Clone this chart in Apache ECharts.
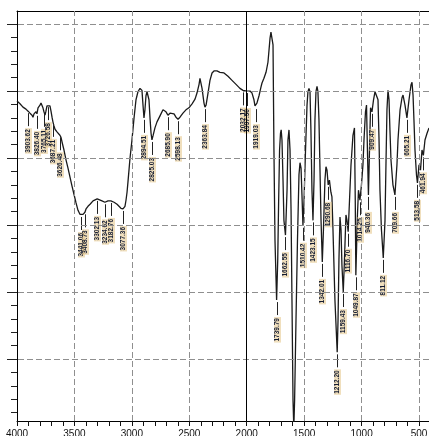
<!DOCTYPE html>
<html>
<head>
<meta charset="utf-8">
<script src="https://cdn.jsdelivr.net/npm/echarts@6/dist/echarts.min.js"></script>
<style>
  html, body { margin: 0; padding: 0; background: #fff; }
  #chart { width: 429px; height: 436px; }
</style>
</head>
<body>
<div id="chart"></div>
<script>
// IR spectrum: wavenumber (cm-1) against transmittance
const wavenumber = [
  4000, 3974, 3948, 3922, 3903.62, 3887, 3869, 3861, 3852, 3843, 3835, 3826.40, 3817, 3800, 3791, 3782,
  3774, 3765.11, 3756, 3748, 3739, 3726.58, 3713, 3704, 3695, 3687.21, 3678, 3669, 3652, 3635, 3626.48,
  3617, 3608, 3591, 3573, 3556, 3539, 3521, 3504, 3486, 3469, 3452, 3441.06, 3425, 3408.73, 3399, 3382,
  3364, 3338, 3321, 3302.13, 3286, 3260, 3234.62, 3208, 3182.76, 3155, 3129, 3112, 3095, 3077.36, 3060,
  3051, 3042, 3034, 3025, 3016, 2999, 2981, 2964, 2947, 2929, 2920, 2912, 2903, 2894.51, 2886, 2877,
  2868, 2859, 2851, 2842, 2833, 2825.03, 2816, 2799, 2781, 2755, 2729, 2720, 2703, 2685.90, 2668, 2651,
  2633, 2616, 2598.13, 2581, 2555, 2529, 2503, 2476, 2450, 2433, 2415, 2407, 2398, 2389, 2372, 2363.84,
  2354, 2337, 2320, 2302, 2285, 2259, 2233, 2198, 2163, 2128, 2093, 2059, 2032.17, 2015, 1997.50, 1971,
  1954, 1937, 1928, 1919.03, 1911, 1893, 1876, 1867, 1850, 1832, 1815, 1806, 1797, 1789, 1780, 1771,
  1763, 1754, 1739.79, 1730, 1722, 1714, 1706, 1700, 1693, 1684, 1676, 1662.55, 1649, 1641, 1632, 1623,
  1614, 1606, 1597, 1590, 1583, 1571, 1558, 1545, 1536, 1527, 1519, 1510.42, 1501, 1488, 1475, 1467,
  1458, 1449, 1441, 1432, 1423.15, 1414, 1406, 1397, 1388, 1380, 1371, 1362, 1353, 1342.01, 1332, 1319,
  1310, 1301, 1290.68, 1280, 1267, 1258, 1249, 1232, 1212.20, 1205, 1197, 1188, 1179, 1171, 1159.43, 1149,
  1136, 1127, 1116.70, 1105, 1092, 1075, 1062, 1055, 1049.87, 1036, 1027, 1014.25, 1001, 988, 979, 966,
  957, 949, 940.36, 931, 922, 909.47, 896, 883, 866, 857, 848, 840, 827, 811.12, 796, 787,
  779, 770, 761, 753, 744, 727, 709.66, 692, 683, 665, 648, 639, 622, 605.21, 587, 570,
  561, 552, 544, 535, 522, 513.58, 500, 487, 474, 461.94, 448, 430, 413
];
const transmittance = [
  38.5, 38.1, 37.6, 37.3, 37.0, 36.7, 36.4, 36.1, 36.6, 36.4, 36.9, 36.6, 37.5, 37.9, 38.2, 38.1,
  37.5, 36.9, 36.4, 37.0, 37.8, 37.9, 37.8, 37.0, 36.1, 35.4, 34.8, 34.3, 33.9, 33.7, 33.4,
  33.1, 32.4, 31.2, 29.7, 28.5, 27.2, 25.8, 24.6, 23.3, 22.2, 21.6, 21.5, 21.6, 21.9, 22.4, 22.8,
  23.1, 23.6, 23.7, 23.9, 23.7, 23.6, 23.4, 23.6, 23.6, 23.4, 23.1, 22.8, 22.5, 22.4, 22.8,
  23.7, 24.9, 26.4, 28.2, 30.0, 32.7, 36.0, 38.7, 39.9, 40.4, 40.6, 40.1, 37.9, 36.0, 37.2, 39.3,
  39.9, 39.9, 38.7, 36.0, 33.7, 32.7, 33.3, 34.5, 35.4, 36.3, 37.2, 37.3, 36.9, 36.4, 36.7, 36.9,
  36.6, 36.1, 35.8, 36.1, 36.7, 37.2, 37.5, 38.1, 38.8, 39.7, 41.0, 41.9, 41.8, 40.4, 38.2, 37.6,
  37.9, 39.7, 41.6, 42.7, 43.0, 43.0, 42.8, 42.7, 42.2, 41.6, 41.0, 40.4, 40.1, 40.0, 40.0, 40.0,
  39.7, 38.7, 37.8, 37.6, 38.2, 39.3, 40.6, 41.2, 41.9, 42.8, 44.3, 46.1, 47.9, 48.8, 48.7, 46.9,
  31.2, 17.8, 8.8, 14.8, 23.7, 31.2, 33.7, 34.2, 32.7, 26.7, 20.7, 18.5, 25.2, 32.7, 34.2, 31.2,
  22.2, 8.8, -6.1, -10.3, -6.1, 5.8, 17.8, 27.5, 29.3, 28.5, 24.5, 19.9, 23.7, 31.2, 37.9, 39.9,
  40.4, 39.9, 34.2, 25.2, 20.7, 26.7, 35.7, 39.9, 40.7, 39.9, 35.7, 28.2, 20.7, 14.5, 19.3, 26.7,
  28.7, 28.2, 26.0, 26.7, 24.9, 24.2, 19.3, 8.8, 1.0, 5.8, 14.8, 21.2, 19.3, 14.0, 10.0, 14.8,
  21.5, 20.7, 19.0, 23.7, 29.0, 33.4, 34.5, 23.7, 12.5, 21.5, 25.2, 23.7, 26.0, 29.0, 32.7, 36.9,
  37.9, 31.2, 24.5, 31.2, 37.5, 36.9, 38.7, 39.9, 40.1, 38.7, 32.7, 25.2, 19.3, 15.1, 20.7, 29.7,
  37.2, 40.1, 38.7, 34.2, 29.7, 26.0, 24.5, 29.0, 32.7, 37.2, 39.0, 39.4, 37.9, 36.0, 38.7, 40.9,
  41.3, 39.4, 35.7, 31.2, 27.5, 26.3, 29.0, 28.2, 31.2, 30.4, 32.7, 33.7, 34.5
];

// Annotated band positions (cm-1)
const peakWavenumbers = [
  3903.62, 3826.40, 3765.11, 3726.58, 3687.21, 3626.48,
  3441.06, 3408.73, 3302.13, 3234.62, 3182.76, 3077.36,
  2894.51, 2825.03, 2685.90, 2598.13, 2363.84,
  2032.17, 1997.50, 1919.03,
  1739.79, 1662.55, 1510.42, 1423.15, 1342.01, 1290.68, 1212.20, 1159.43, 1116.70,
  1049.87, 1014.25, 940.36, 909.47, 811.12, 709.66, 605.21, 513.58, 461.94
];

// Axis ticks
const xTickLabels = [500, 1000, 1500, 2000, 2500, 3000, 3500, 4000];
const xMinorTicks = [];
for (let w = 500; w <= 4000; w += 100) xMinorTicks.push(w);
const yMajorTicks = [0, 10, 20, 30, 40, 50];
const yMinorTicks = [];
for (let t = -8; t <= 50; t += 2) yMinorTicks.push(t);
const xGridValues = [500, 1000, 1500, 2500, 3000, 3500];

const spectrum = wavenumber.map((w, i) => [w, transmittance[i]]);

function valueAt(w) {
  for (let i = 0; i < wavenumber.length - 1; i++) {
    const a = wavenumber[i], b = wavenumber[i + 1];
    if (w <= a && w >= b) {
      const t = (a - w) / (a - b);
      return transmittance[i] + t * (transmittance[i + 1] - transmittance[i]);
    }
  }
  return transmittance[transmittance.length - 1];
}
const peakMarks = peakWavenumbers.map(w => [w, valueAt(w)]);

const X_MIN = 413, X_MAX = 4000, Y_MIN = -9.25, Y_MAX = 51.95;

const chart = echarts.init(document.getElementById('chart'), null, { renderer: 'canvas' });
chart.setOption({
  animation: false,
  backgroundColor: '#ffffff',
  grid: { left: 17, right: 0, top: 11, bottom: 15, containLabel: false, outerBoundsMode: 'none' },
  xAxis: [
    {
      type: 'value', inverse: true, min: X_MIN, max: X_MAX, position: 'bottom',
      axisLine: { show: true, onZero: false, lineStyle: { color: '#000', width: 1 } },
      axisTick: { show: true, customValues: xMinorTicks, length: 5, inside: false,
                  lineStyle: { color: '#111', width: 1 } },
      axisLabel: { show: true, customValues: xTickLabels, margin: 8, fontSize: 10,
                   color: '#111', fontFamily: 'Liberation Sans',
                   formatter: v => String(v) },
      splitLine: { show: false }
    },
    {
      type: 'value', inverse: true, min: X_MIN, max: X_MAX, position: 'top',
      axisLine: { show: true, onZero: false, lineStyle: { color: '#000', width: 1 } },
      axisTick: { show: false }, axisLabel: { show: false }, splitLine: { show: false }
    }
  ],
  yAxis: [
    {
      type: 'value', min: Y_MIN, max: Y_MAX, position: 'left',
      axisLine: { show: true, onZero: false, lineStyle: { color: '#000', width: 1 } },
      axisTick: { show: true, customValues: yMinorTicks, length: 6,
                  lineStyle: { color: '#222', width: 1 } },
      axisLabel: { show: false, customValues: yMajorTicks },
      splitLine: { show: false }
    },
    {
      type: 'value', min: Y_MIN, max: Y_MAX, position: 'left',
      axisLine: { show: false, onZero: false },
      axisTick: { show: true, customValues: yMajorTicks, length: 10,
                  lineStyle: { color: '#222', width: 1 } },
      axisLabel: { show: false, customValues: yMajorTicks },
      splitLine: { show: false }
    }
  ],
  series: [
    {
      name: 'grid',
      type: 'line', data: [], z: 1, silent: true,
      markLine: {
        silent: true, symbol: 'none', animation: false,
        label: { show: false },
        lineStyle: { color: '#8f8f8f', type: [6, 3], width: 1 },
        emphasis: { disabled: true },
        data: xGridValues.map(v => ({ xAxis: v }))
          .concat(yMajorTicks.map(v => ({ yAxis: v })))
          .concat([{ xAxis: 2000, lineStyle: { color: '#000', type: 'solid', width: 1 } }])
      }
    },
    {
      name: 'spectrum',
      type: 'line', data: spectrum, z: 3,
      symbol: 'none', showSymbol: false, clip: true,
      lineStyle: { color: '#1a1a1a', width: 1.3 }
    },
    {
      name: 'peaks',
      type: 'custom', data: peakMarks, z: 4, silent: true,
      renderItem: function (params, api) {
        const w = api.value(0);
        const p = api.coord([w, api.value(1)]);
        const x = Math.round(p[0]) + 0.5;
        return {
          type: 'group',
          children: [
            { type: 'line', shape: { x1: x, y1: p[1] + 2, x2: x, y2: p[1] + 15 },
              style: { stroke: '#222', lineWidth: 1 } },
            { type: 'text', x: x, y: p[1] + 17, rotation: Math.PI / 2,
              style: { text: w.toFixed(2), font: 'bold 6.5px "Liberation Sans"', fill: '#141c33',
                       align: 'right', verticalAlign: 'middle',
                       backgroundColor: 'rgba(228,196,135,0.55)', padding: [0, 1] } }
          ]
        };
      }
    }
  ]
});
</script>
</body>
</html>
